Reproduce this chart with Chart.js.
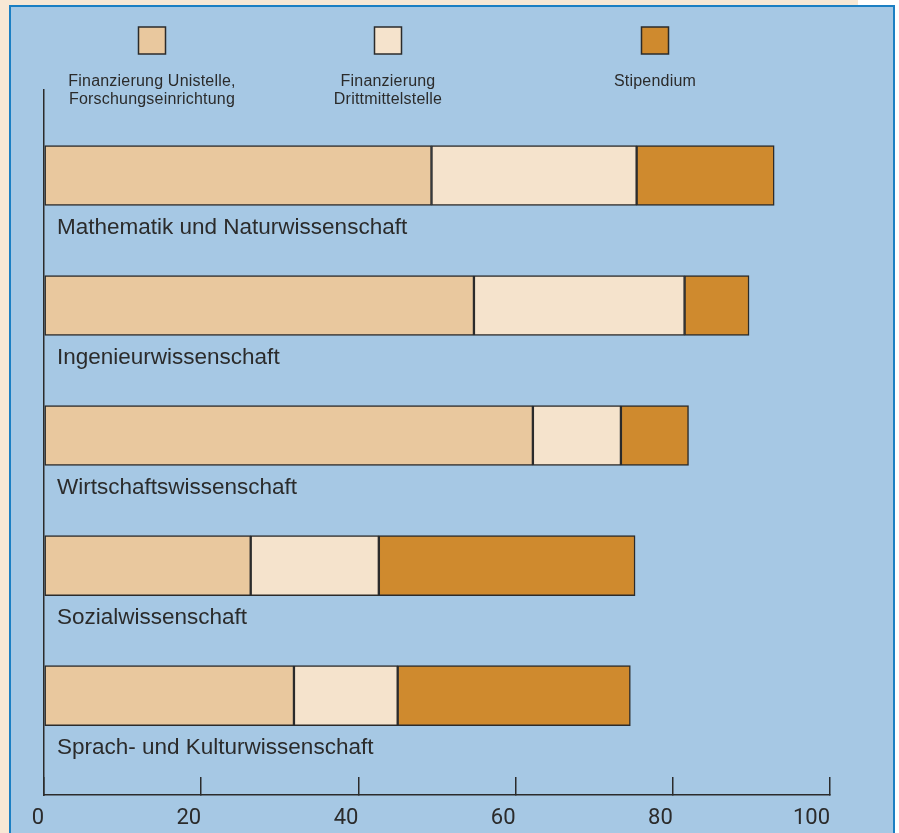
<!DOCTYPE html>
<html>
<head>
<meta charset="utf-8">
<script src="https://cdn.jsdelivr.net/npm/chart.js@4"></script>
<style>
  html, body { margin: 0; padding: 0; background: #fff; }
  #wrap { position: relative; width: 899px; height: 833px; overflow: hidden; }
  #outer { position: absolute; left: 0; top: 0; width: 858px; height: 833px; background: #f7e8d5; }
  #panel { position: absolute; left: 9px; top: 5px; width: 882px; height: 900px; background: #a6c8e4; border: 2px solid #1b7fc3; }
  canvas { position: absolute; left: 0; top: 0; }
</style>
</head>
<body>
<div id="wrap">
  <div id="outer"></div>
  <div id="panel"></div>
  <canvas id="barChart" width="899" height="833" style="width:899px;height:833px"></canvas>
</div>
<script>
// data
var categories = [
  "Mathematik und Naturwissenschaft",
  "Ingenieurwissenschaft",
  "Wirtschaftswissenschaft",
  "Sozialwissenschaft",
  "Sprach- und Kulturwissenschaft"
];
var seriesNames = [
  ["Finanzierung Unistelle,", "Forschungseinrichtung"],
  ["Finanzierung", "Drittmittelstelle"],
  ["Stipendium"]
];
var unistelle = [49.3, 54.7, 62.2, 26.3, 31.8];
var drittmittel = [26.1, 26.8, 11.2, 16.3, 13.2];
var stipendium = [17.5, 8.2, 8.6, 32.6, 29.6];
var xTicks = [0, 20, 40, 60, 80, 100];

var ink = "#2b2b2b";
var colors = ["#e9c89e", "#f5e3cc", "#cf8a2e"];

function toPoints(values) {
  return values.map(function (v, i) { return { x: v, y: i }; });
}

// category names under the bars + legend on top
var textPlugin = {
  id: "texts",
  afterDraw: function (chart) {
    var ctx = chart.ctx;
    var yScale = chart.scales.y;
    var area = chart.chartArea;
    ctx.save();
    ctx.fillStyle = ink;
    ctx.textBaseline = "alphabetic";
    ctx.font = '22.5px "Liberation Sans", Arial, sans-serif';
    ctx.textAlign = "left";
    categories.forEach(function (name, i) {
      ctx.fillText(name, area.left + 13, yScale.getPixelForValue(i) + 58);
    });

    // legend
    var centers = [152, 388, 655];
    ctx.font = '16px "Liberation Sans", Arial, sans-serif';
    ctx.letterSpacing = "0.2px";
    ctx.textAlign = "center";
    chart.data.datasets.forEach(function (ds, i) {
      var cx = centers[i];
      ctx.fillStyle = ds.backgroundColor;
      ctx.fillRect(cx - 13.5, 27, 27, 27);
      ctx.strokeStyle = ink;
      ctx.lineWidth = 1.5;
      ctx.strokeRect(cx - 13.5, 27, 27, 27);
      ctx.fillStyle = ink;
      seriesNames[i].forEach(function (line, j) {
        ctx.fillText(line, cx, 86 + j * 18);
      });
    });
    ctx.restore();
  }
};

var ctx = document.getElementById("barChart").getContext("2d");
var myChart = new Chart(ctx, {
  type: "bar",
  data: {
    datasets: [
      { label: seriesNames[0].join(" "), data: toPoints(unistelle), backgroundColor: colors[0] },
      { label: seriesNames[1].join(" "), data: toPoints(drittmittel), backgroundColor: colors[1] },
      { label: seriesNames[2].join(" "), data: toPoints(stipendium), backgroundColor: colors[2] }
    ]
  },
  options: {
    indexAxis: "y",
    responsive: false,
    animation: false,
    layout: { padding: { left: 44, right: 69, top: 90, bottom: 4 } },
    datasets: {
      bar: { barThickness: 60, borderColor: ink, borderWidth: 1.5, borderSkipped: false }
    },
    plugins: {
      legend: { display: false },
      tooltip: { enabled: false }
    },
    scales: {
      x: {
        type: "linear",
        stacked: true,
        min: 0,
        max: 100,
        afterBuildTicks: function (scale) {
          scale.ticks = xTicks.map(function (v) { return { value: v }; });
        },
        afterFit: function (scale) { scale.height = 34; },
        grid: { drawOnChartArea: false, drawTicks: true, tickLength: -18, color: ink, lineWidth: 1.5 },
        border: { display: true, color: ink, width: 1.5 },
        ticks: {
          align: "end",
          padding: 28,
          color: ink,
          font: { family: '"Liberation Sans Narrow", "Roboto", sans-serif', size: 22 }
        }
      },
      y: {
        type: "linear",
        stacked: true,
        reverse: true,
        offset: false,
        min: -0.658,
        max: 4.765,
        ticks: { display: false },
        grid: { offset: false, drawOnChartArea: false, drawTicks: false },
        border: { display: true, color: ink, width: 1.5 }
      }
    }
  },
  plugins: [textPlugin]
});
</script>
</body>
</html>
